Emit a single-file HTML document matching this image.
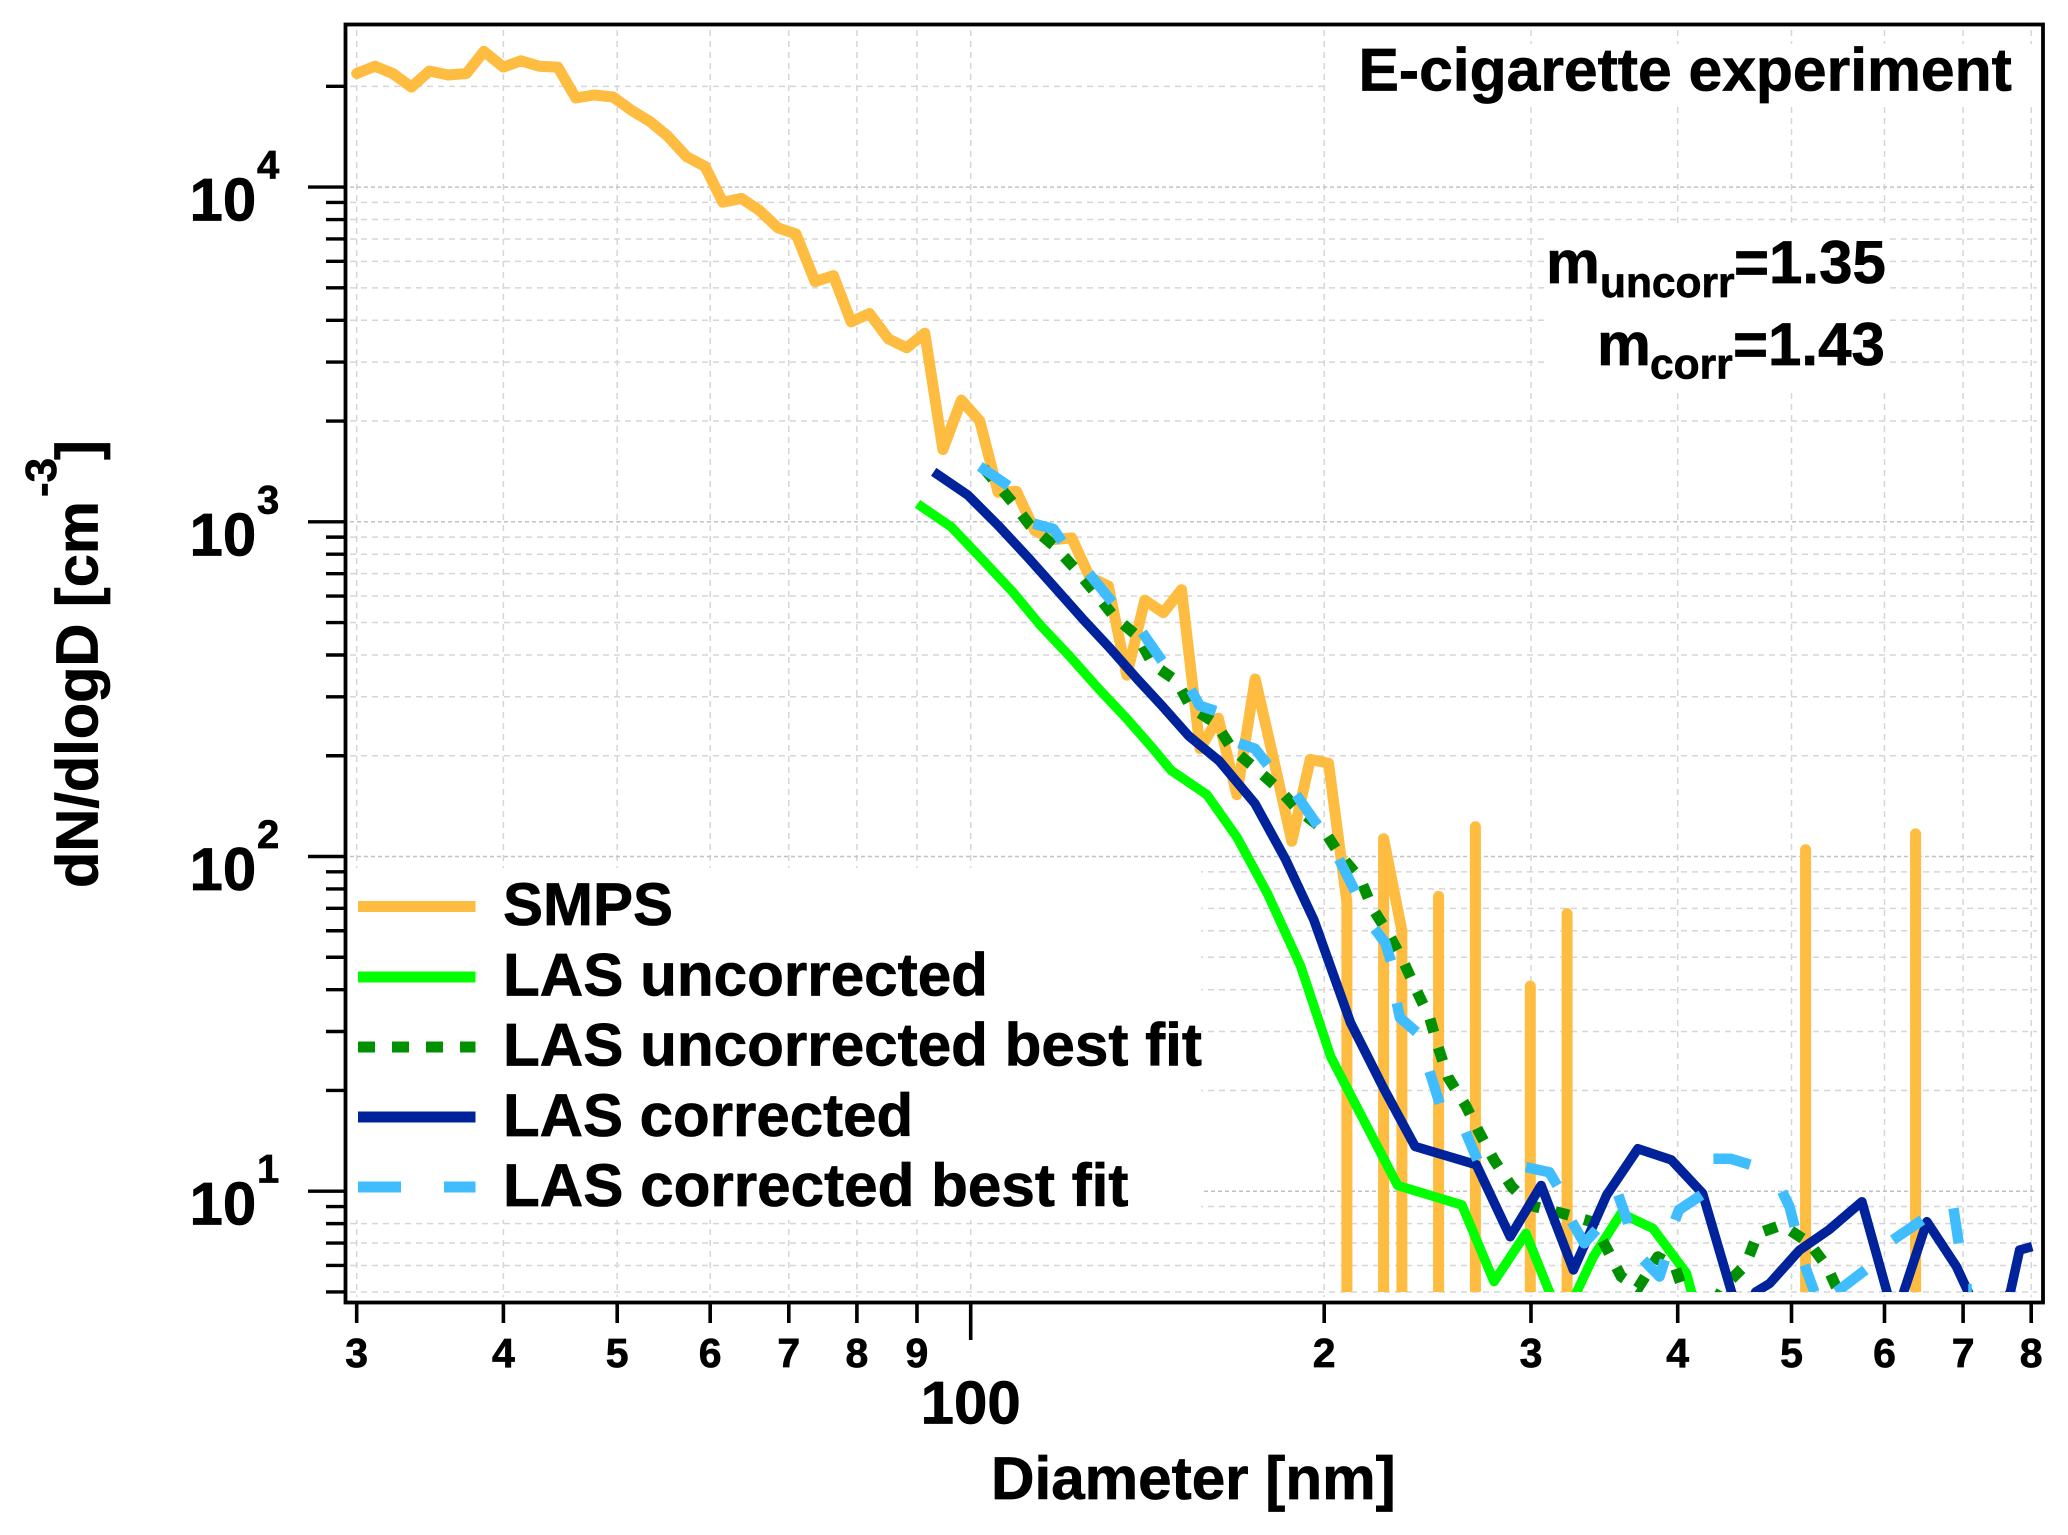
<!DOCTYPE html>
<html lang="en">
<head>
<meta charset="utf-8">
<title>E-cigarette experiment size distribution</title>
<style>
html,body{margin:0;padding:0;background:#fff;width:2068px;height:1535px;overflow:hidden}
svg{display:block}
text{font-family:"Liberation Sans",Arial,sans-serif;font-weight:bold;fill:#000;stroke:#000;stroke-width:0.7px}
</style>
</head>
<body>
<svg id="chart" xmlns="http://www.w3.org/2000/svg" width="2068" height="1535" viewBox="0 0 2068 1535">
  <defs>
    <clipPath id="plot-clip"><rect x="347" y="26" width="1694" height="1266"/></clipPath>
  </defs>
  <rect x="0" y="0" width="2068" height="1535" fill="#fff"/>
  <g id="grid"></g>
  <g>
    <rect x="349" y="868" width="852" height="352" fill="#fff"/>
    <rect x="1327" y="44" width="710" height="59" fill="#fff"/>
    <rect x="1545" y="225" width="343" height="165" fill="#fff"/>
  </g>
  <g id="series"></g>
  <rect x="345.5" y="24.5" width="1697.5" height="1278" fill="none" stroke="#000" stroke-width="3.8"/>
  <g id="axes"></g>

  <text x="1358.5" y="90.5" font-size="60.6">E-cigarette experiment</text>

  <g>
    <text x="1546" y="283" font-size="60.6">m</text>
    <text x="1600" y="297" font-size="42.5">uncorr</text>
    <text x="1734" y="283" font-size="60">=1.35</text>
    <text x="1597" y="365" font-size="60.6">m</text>
    <text x="1650" y="378.5" font-size="42.5">corr</text>
    <text x="1733" y="365" font-size="60">=1.43</text>
  </g>

  <g>
    <g>
      <line x1="358" x2="475.5" y1="906.5" y2="906.5" stroke="#FEBC40" stroke-width="11"/>
      <text x="503" y="925" font-size="60">SMPS</text>
    </g>
    <g>
      <line x1="358" x2="475.5" y1="977" y2="977" stroke="#00FF00" stroke-width="11"/>
      <text x="503" y="995.5" font-size="60.2">LAS uncorrected</text>
    </g>
    <g>
      <line x1="358" x2="475.5" y1="1047" y2="1047" stroke="#009000" stroke-width="11" stroke-dasharray="17 17"/>
      <text x="503" y="1065.5" font-size="60.2">LAS uncorrected best fit</text>
    </g>
    <g>
      <line x1="358" x2="475.5" y1="1117" y2="1117" stroke="#00239B" stroke-width="11"/>
      <text x="503" y="1136" font-size="60">LAS corrected</text>
    </g>
    <g>
      <line x1="358" x2="475.5" y1="1187" y2="1187" stroke="#3FBDFF" stroke-width="11" stroke-dasharray="43 43"/>
      <text x="503" y="1206" font-size="60.2">LAS corrected best fit</text>
    </g>
  </g>

  <text x="991" y="1499" font-size="60.2">Diameter [nm]</text>

  <g>
    <text transform="translate(97.6,888) rotate(-90)" font-size="59.5">dN/dlogD [cm</text>
    <text transform="translate(56,497) rotate(-90)" font-size="44">-3</text>
    <text transform="translate(97.6,460) rotate(-90)" font-size="59.5">]</text>
  </g>
</svg>

<script>
// ---- chart data ----
const smpsDiameter = [30.0,31.1,32.2,33.4,34.6,35.9,37.2,38.5,40.0,41.4,42.9,44.5,46.1,47.8,49.6,51.4,53.3,55.2,57.3,59.4,61.5,63.8,66.1,68.5,71.0,73.7,76.4,79.1,82.0,85.1,88.2,91.4,94.7,98.2,101.8,105.5,109.4,113.4,117.6,121.9,126.3,131.0,135.8,140.7,145.9,151.2,156.8,162.5,168.5,174.7,181.1,187.7,194.6,201.7,209.1,216.7,224.7,232.9,241.4,250.3,259.5,269.0,278.8,299.6,310.6,322.0,333.8,514.0,532.8,637.8,661.0];
const smpsCount = [21850,22980,21850,19890,22220,21630,21850,25430,22830,23850,22980,22830,18460,18840,18590,16970,15710,14200,12320,11520,9010,9250,8510,7560,7240,5220,5440,3960,4190,3520,3310,3660,1643,2309,2000,1226,1233,941,885,895,683,643,348,583,535,627,210,259,153,339,195,111,195,190,73,0,113,60,0,76,0,122.7,0,41,0,67.5,0,104.7,0,116.8,0];

const lasUncorrectedDiameter = [90.1,96.3,102.6,108.5,114.7,121.3,128.3,135.7,142.5,148.1,158.9,168.6,178.9,191,202.6,231,262,279,297,318.8,339,358,381,407,411,415];
const lasUncorrectedCount = [1131,964,763,619,490,398,319,259,213,181,153,114,77.7,47,25.2,10.4,9.1,5.37,7.48,4.03,6.37,8.59,7.74,5.68,5.0,4.3];

const lasUncorrectedFitDiameter = [102.6,108.5,112.3,118,122.6,127.4,132.4,138.6,143,149.7,154,161.7,166.9,174.6,182.7,189.9,199.5,205.9,214.7,219.7,227,233.5,239.7,245.9,250,255,264,271,279,289,300,319,338,348,358,370,384.6,398,405,419,438,457,468,491,518,536,549];
const lasUncorrectedFitCount = [1446,1145,976,842,727,619,522,456,374,335,279,250,210,184,160,138,121,102,85.7,70.4,58.6,48.7,39.8,33,27,21.9,18,15,12.4,10.3,9.05,8.59,8.11,6.75,5.56,5.13,6.37,5.95,4.95,3.94,5.19,6.02,7.48,7.93,6.99,5.95,4.95];

const lasCorrectedDiameter = [93,99.4,105.5,111.9,118,124.8,131.5,138.6,145.5,153.4,162.8,174.6,185.4,196,210.6,224.7,239,269.5,288,306,326,348,370,395,420,444,455,466,479,508,538,574,603,613,623,652,691,707,732,768,782,801.6];
const lasCorrectedCount = [1411,1203,976,782,635,509,418,339,282,229,193,144,98.1,64.6,31.9,20.3,13.6,12.0,7.31,10.4,5.82,9.74,13.4,12.4,9.85,5.07,3.76,5.0,5.3,6.67,7.66,9.30,5.0,3.76,5.0,8.11,5.95,5.0,3.76,5.0,6.67,6.83];

// null marks a gap between the long dashes of the fit trace
const lasCorrectedFitDiameter = [101.8,107.7,null,113.1,117.6,119.6,null,126.1,132,null,140,145.5,null,154,156.7,161.7,null,169.2,174.6,179,null,189.3,197.4,null,205.9,212.5,null,220.8,225.5,227.9,null,230.6,232,239.7,null,245.9,250.8,null,264,270,null,297,311,315.8,null,325,333,341,null,356,363,null,374,386,390,null,398,401,419,null,429,444,461,null,491,498,503,null,513,523,null,546,578,null,610,646,null,687,694,null,707,712];
const lasCorrectedFitCount = [1464,1279,null,988,952,874,null,701,575,null,467,384,null,315,282,272,null,218,210,188,null,153,124,null,98.1,78.7,null,60.8,55.1,48.7,null,36.5,33,29.9,null,22.8,18.3,null,15,12.4,null,11.8,11.4,10.4,null,8.11,6.99,7.66,null,9.74,8.02,null,6.23,5.56,6.23,null,8.2,8.79,9.74,null,12.5,12.5,12,null,9.97,8.99,7.84,null,6.02,5,null,5,5.82,null,7.15,8.2,null,8.89,6.99,null,5.1,5.1];

const xMinorTicks = [30,40,50,60,70,80,90,100,200,300,400,500,600,700,800];
const xTickLabels = ["3","4","5","6","7","8","9","100","2","3","4","5","6","7","8"];
const yDecades = [10,100,1000,10000];
const yDecadeExponents = ["1","2","3","4"];
const yMinorTicks = [5,6,7,8,9,10,20,30,40,50,60,70,80,90,100,200,300,400,500,600,700,800,900,1000,2000,3000,4000,5000,6000,7000,8000,9000,10000,20000];

// ---- axis functions ----
function xScale(d){ return 970.7 + 1174.3 * (Math.log10(d) - 2); }
function yScale(v){ return 187.1 + 334.7 * (4 - Math.log10(v)); }

const NS = 'http://www.w3.org/2000/svg';
const gridGroup = document.getElementById('grid');
const seriesGroup = document.getElementById('series');
const axesGroup = document.getElementById('axes');

function makeEl(tag, attrs, parent){
  const el = document.createElementNS(NS, tag);
  for (const k in attrs) el.setAttribute(k, attrs[k]);
  parent.appendChild(el);
  return el;
}

// ---- grid ----
xMinorTicks.forEach(function(d){
  const x = xScale(d);
  const line = makeEl('line', {x1:x, x2:x, y1:30, y2:1297, stroke:'#d6d6d6', 'stroke-width':1.5, 'stroke-dasharray':'6 5'}, gridGroup);
  
  
});
yMinorTicks.forEach(function(v){
  const y = yScale(v);
  const major = yDecades.indexOf(v) >= 0;
  const line = makeEl('line', {x1:350, x2:2037, y1:y, y2:y, stroke: major ? '#c2c2c2' : '#d6d6d6', 'stroke-width':1.5, 'stroke-dasharray': major ? '4 3' : '6 5'}, gridGroup);
  
  
});

// ---- series ----
function linePath(xs, ys){
  let d = '';
  let pen = false;
  for (let i = 0; i < xs.length; i++) {
    if (xs[i] === null || ys[i] === null) { pen = false; continue; }
    d += (pen ? 'L' : 'M') + xScale(xs[i]).toFixed(1) + ' ' + yScale(ys[i]).toFixed(1);
    pen = true;
  }
  return d;
}
// zero counts fall off the log axis: the trace drops vertically from the neighbouring bin
function dropPath(xs, ys){
  let d = '';
  let open = false;
  const base = yScale(1).toFixed(1);
  for (let i = 0; i < xs.length; i++) {
    const X = xScale(xs[i]).toFixed(1);
    if (ys[i] > 0) {
      if (!open && i > 0) d += 'M' + X + ' ' + base + 'L' + X + ' ' + yScale(ys[i]).toFixed(1);
      else d += (open ? 'L' : 'M') + X + ' ' + yScale(ys[i]).toFixed(1);
      open = true;
    } else if (open) {
      const P = xScale(xs[i-1]).toFixed(1);
      d += 'L' + P + ' ' + base;
      open = false;
    }
  }
  return d;
}

const smpsLine = makeEl('path', {d:dropPath(smpsDiameter, smpsCount), fill:'none', stroke:'#FEBC40', 'stroke-width':11, 'stroke-linejoin':'round', 'stroke-linecap':'round', 'clip-path':'url(#plot-clip)'}, seriesGroup);



const uncorrectedLine = makeEl('path', {d:linePath(lasUncorrectedDiameter, lasUncorrectedCount), fill:'none', stroke:'#00FF00', 'stroke-width':9.5, 'stroke-linejoin':'round', 'clip-path':'url(#plot-clip)'}, seriesGroup);



const uncorrectedFitLine = makeEl('path', {d:linePath(lasUncorrectedFitDiameter, lasUncorrectedFitCount), fill:'none', stroke:'#009000', 'stroke-width':11, 'stroke-linejoin':'round', 'stroke-dasharray':'14 16', 'clip-path':'url(#plot-clip)'}, seriesGroup);



const correctedLine = makeEl('path', {d:linePath(lasCorrectedDiameter, lasCorrectedCount), fill:'none', stroke:'#00239B', 'stroke-width':9.5, 'stroke-linejoin':'round', 'clip-path':'url(#plot-clip)'}, seriesGroup);



const correctedFitLine = makeEl('path', {d:linePath(lasCorrectedFitDiameter, lasCorrectedFitCount), fill:'none', stroke:'#3FBDFF', 'stroke-width':10.5, 'stroke-linejoin':'round', 'clip-path':'url(#plot-clip)'}, seriesGroup);



// ---- axes ----
xMinorTicks.forEach(function(d, i){
  const x = xScale(d);
  const major = d === 100;
  const tick = makeEl('line', {x1:x, x2:x, y1:1302, y2: major ? 1340 : 1323, stroke:'#000', 'stroke-width':3.6}, axesGroup);
  
  
  const label = makeEl('text', {x:x, y: major ? 1423.5 : 1367, 'text-anchor':'middle', 'font-size': major ? 60 : 41}, axesGroup);
  label.textContent = xTickLabels[i];
  
  
});
yMinorTicks.forEach(function(v){
  const y = yScale(v);
  const major = yDecades.indexOf(v) >= 0;
  const tick = makeEl('line', {x1: major ? 308 : 326, x2:345, y1:y, y2:y, stroke:'#000', 'stroke-width':3.4}, axesGroup);
  
  
});
yDecades.forEach(function(v, i){
  const y = yScale(v);
  const base = makeEl('text', {x:189.5, y:y + 33.5, 'font-size':60}, axesGroup);
  base.textContent = '10';
  
  
  const exponent = makeEl('text', {x:257, y:y - 8.5, 'font-size':40}, axesGroup);
  exponent.textContent = yDecadeExponents[i];
  
  
});

// clip traces at the lowest gridline (count = 5) and the right edge of the frame
(function(){
  const clipRect = document.querySelector('#plot-clip rect');
  clipRect.setAttribute('height', yScale(5) - 26);
})();
</script>
</body>
</html>
